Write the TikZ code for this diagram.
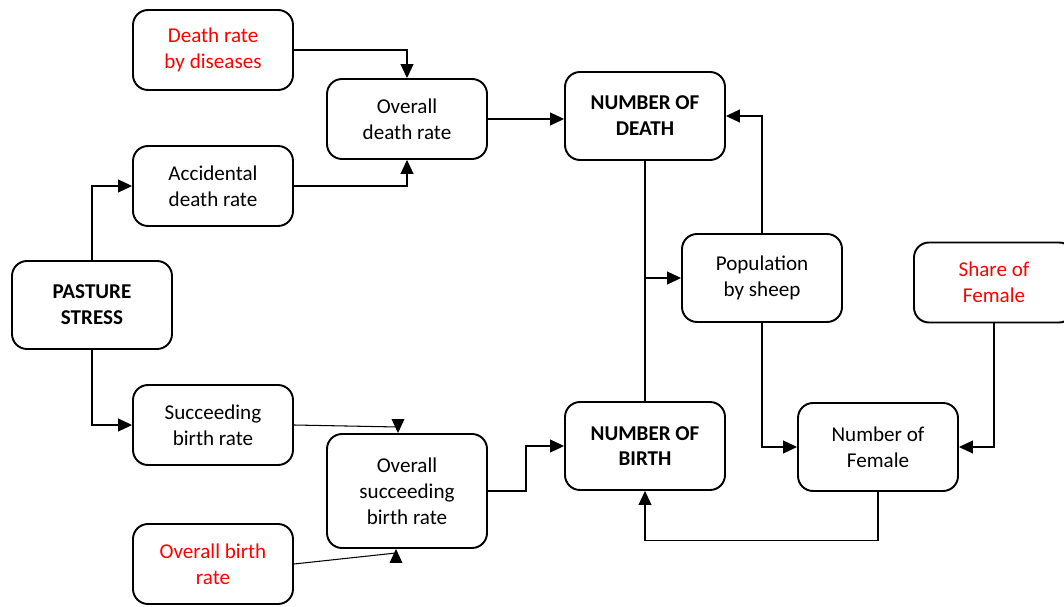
\documentclass[tikz,border=0pt]{standalone}
\usepackage{fontspec}
\setmainfont{Carlito}
\usetikzlibrary{arrows.meta}

\tikzset{
  block/.style={draw, line width=1.1pt, rounded corners=0.3cm, align=center,
    minimum width=3.2cm, minimum height=1.6cm, inner sep=2pt,
    font=\fontsize{12}{14.7}\selectfont},
  tall/.style={minimum height=1.76cm},
  given/.style={text=red},
  key/.style={font=\fontsize{12}{14.7}\selectfont\bfseries},
  flow/.style={line width=0.6pt, -{Triangle[length=0.28cm, width=0.26cm]}},
  link/.style={line width=0.6pt}
}

\begin{document}
\begin{tikzpicture}
    \useasboundingbox (0, 0) rectangle (21.28, 12.12);

    \node [block, given] (disease) at (4.26, 11.12) {Death rate\\by diseases};
    \node [block] (overdeath) at (8.14, 9.74) {Overall\\death rate};
    \node [block] (accident) at (4.26, 8.40) {Accidental\\death rate};
    \node [block, tall, key] (death) at (12.90, 9.80) {NUMBER OF\\DEATH};
    \node [block, tall] (sheep) at (15.24, 6.56) {Population\\by sheep};
    \node [block, given] (share) at (19.88, 6.47) {Share of\\Female};
    \node [block, tall, key] (stress) at (1.84, 6.02) {PASTURE\\STRESS};
    \node [block] (succeed) at (4.26, 3.62) {Succeeding\\birth rate};
    \node [block, minimum height=2.28cm] (oversucceed) at (8.14, 2.30) {Overall\\succeeding\\birth rate};
    \node [block, tall, key] (birth) at (12.90, 3.20) {NUMBER OF\\BIRTH};
    \node [block, tall] (female) at (17.56, 3.18) {Number of\\Female};
    \node [block, given] (overbirth) at (4.26, 0.84) {Overall birth\\rate};

    \draw [flow] (disease.east) -| (overdeath.north);
    \draw [flow] (accident.east) -| (overdeath.south);
    \draw [flow] (overdeath.east) -- (overdeath.east -| death.west);
    \draw [flow] (stress.north) |- (accident.west);
    \draw [flow] (stress.south) |- (succeed.west);

    % the two lower inputs meet the arrowheads part way
    \coordinate (succeedin) at (7.96, 3.58);
    \coordinate (birthin) at (7.92, 1.06);
    \draw [link] (succeed.east) -- (succeedin);
    \fill (succeedin |- oversucceed.north) -- ++(-0.13, 0.28) -- ++(0.26, 0) -- cycle;
    \draw [link] (overbirth.east) -- (birthin);
    \fill (birthin |- oversucceed.south) -- ++(-0.13, -0.28) -- ++(0.26, 0) -- cycle;
    \draw [flow] (oversucceed.east) -- ++(0.76, 0) |- (birth.west);

    \draw [link] (death.south) -- (birth.north);
    \draw [flow] (death.south |- sheep.west) -- (sheep.west);
    \draw [flow] (sheep.north) |- (death.east);
    \draw [flow] (sheep.south) |- (female.west);
    \draw [flow] (share.south) |- (female.east);
    \draw [flow] (female.south) -- ++(0, -0.98) -| (birth.south);
  \end{tikzpicture}
\end{document}
